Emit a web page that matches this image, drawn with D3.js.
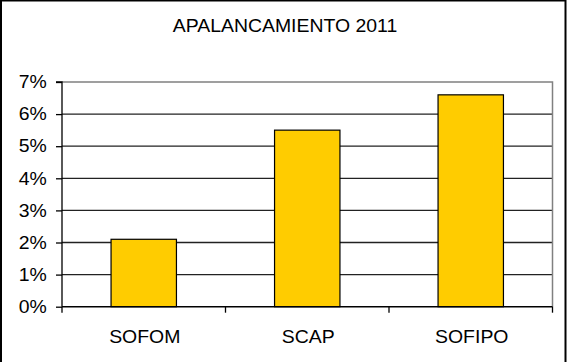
<!DOCTYPE html>
<html>
<head>
<meta charset="utf-8">
<script src="https://cdn.jsdelivr.net/npm/d3@7"></script>
<style>
html,body{margin:0;padding:0;background:#fff;}
svg{display:block;}
text{font-family:"Liberation Sans",Arial,sans-serif;fill:#000;}
</style>
</head>
<body>
<script>
const categories = ["SOFOM", "SCAP", "SOFIPO"];
const values = [0.021, 0.055, 0.066];
const yTicks = [0, 0.01, 0.02, 0.03, 0.04, 0.05, 0.06, 0.07];
const title = "APALANCAMIENTO 2011";

const W = 570, H = 362;
const plot = {left: 62, right: 552.5, top: 82, bottom: 306.7};
const SX = 1.08;

const svg = d3.select("body").append("svg").attr("width", W).attr("height", H);

// outer border
svg.append("rect").attr("x", 1).attr("y", 0.5).attr("width", 564.5).attr("height", H + 10)
  .attr("fill", "#fff").attr("stroke", "#000").attr("stroke-width", 2);

const x = d3.scaleBand().domain(categories).range([plot.left, plot.right]).paddingInner(0.6).paddingOuter(0.3);
const xb = d3.scaleBand().domain(categories).range([plot.left, plot.right]);
const y = d3.scaleLinear().domain([0, 0.07]).range([plot.bottom, plot.top]);

// gridlines
svg.append("g").selectAll("line").data(yTicks.filter(d => d > 0 && d < 0.07)).join("line")
  .attr("x1", plot.left).attr("x2", plot.right)
  .attr("y1", d => y(d)).attr("y2", d => y(d))
  .attr("stroke", "#222").attr("stroke-width", 1.3);

// plot border (top & right gray)
svg.append("path")
  .attr("d", `M${plot.left},${y(0.07)}H${plot.right}V${plot.bottom}`)
  .attr("fill", "none").attr("stroke", "#808080").attr("stroke-width", 1.5);

// bars
svg.append("g").selectAll("rect").data(values).join("rect")
  .attr("x", (d, i) => x(categories[i]))
  .attr("width", x.bandwidth())
  .attr("y", d => y(d))
  .attr("height", d => y(0) - y(d))
  .attr("fill", "#FFCC00").attr("stroke", "#000").attr("stroke-width", 1.2);

// y axis
const yAxis = d3.axisLeft(y).tickValues(yTicks).tickFormat(d3.format(".0%")).tickSize(6).tickPadding(9);
const gy = svg.append("g").attr("transform", `translate(${plot.left},0)`).call(yAxis);
gy.select(".domain").attr("stroke", "#000").attr("stroke-width", 1.3).attr("d", `M-6,${plot.top}H0V${plot.bottom}`);
gy.selectAll(".tick line").attr("stroke", "#000").attr("stroke-width", 1.3);
gy.selectAll(".tick text")
  .attr("font-size", 18).attr("font-family", "Liberation Sans, Arial, sans-serif").attr("fill", "#000")
  .attr("x", -15.3 / SX).attr("transform", `scale(${SX},1)`);

// x axis
const gx = svg.append("g").attr("transform", `translate(0,${plot.bottom})`);
gx.append("line").attr("x1", plot.left).attr("x2", plot.right).attr("stroke", "#000").attr("stroke-width", 1.5);
const bounds = categories.map(c => xb(c)).concat([plot.right]);
gx.selectAll(".bt").data(bounds).join("line").attr("class", "bt")
  .attr("x1", d => d).attr("x2", d => d).attr("y1", 0).attr("y2", 6)
  .attr("stroke", "#000").attr("stroke-width", 1.3);
gx.selectAll(".lbl").data(categories).join("text").attr("class", "lbl")
  .attr("transform", d => `translate(${xb(d) + xb.bandwidth() / 2 + 1},36) scale(${SX},1)`)
  .attr("text-anchor", "middle").attr("font-size", 18).text(d => d);

// title
svg.append("text").attr("transform", `translate(285,32) scale(${SX},1)`).attr("text-anchor", "middle")
  .attr("font-size", 18).text(title);
</script>
</body>
</html>
